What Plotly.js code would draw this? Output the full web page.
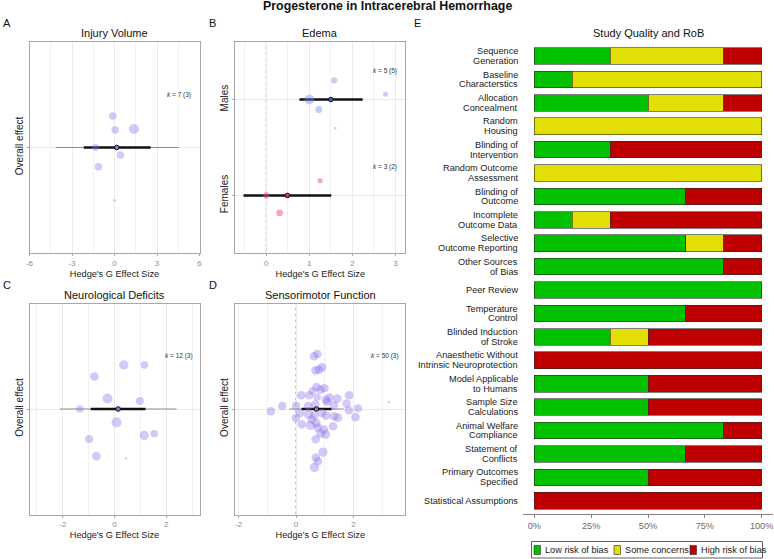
<!DOCTYPE html>
<html>
<head>
<meta charset="utf-8">
<script src="https://cdn.plot.ly/plotly-3.0.1.min.js"></script>
<style>
  html, body { margin: 0; padding: 0; background: #ffffff; }
  #chart { width: 774px; height: 559px; }
</style>
</head>
<body>
<div id="chart"></div>
<script>
// ---------------- Panel A: injury volume ----------------
const injuryG = [-0.12, 0.05, 1.37, -1.33, 0.42, -1.14, 0.0];
const injuryJitter = [0.179, 0.10, 0.105, 0.0, -0.043, -0.11, -0.30];
const injuryWeight = [9, 9, 16, 7.6, 9, 9, 1];
const injuryEstimate = 0.16;
const injuryCI = [-2.17, 2.55];
const injuryPI = [-4.15, 4.53];
const injuryCounts = [7, 3];          // effect sizes (studies)

// ---------------- Panel B: edema by sex ----------------
const sexGroups = ['Females', 'Males'];
const maleG = [1.58, 2.77, 1.0, 1.22, 1.6];
const maleJitter = [0.20, 0.055, 0.0, -0.105, -0.30];
const maleWeight = [6.25, 4, 16, 8.1, 1];
const maleEstimate = 1.5;
const maleCI = [0.77, 2.24];
const maleCounts = [5, 5];
const femaleG = [1.25, 0.0, 0.31];
const femaleJitter = [0.154, 0.0, -0.182];
const femaleWeight = [4, 6.25, 7];
const femaleEstimate = 0.49;
const femaleCI = [-0.53, 1.51];
const femaleCounts = [3, 2];

// ---------------- Panel C: neurological deficits ----------------
const neuroG = [0.36, 1.16, -0.78, -0.27, 0.98, -1.34, 0.08, 1.15, 1.54, -0.98, -0.7, 0.44];
const neuroJitter = [0.25, 0.25, 0.185, 0.06, 0.045, 0.0, -0.076, -0.15, -0.141, -0.171, -0.268, -0.281];
const neuroWeight = [14, 9, 12, 16, 10.5, 9, 16, 14, 9, 10.5, 12, 1];
const neuroEstimate = 0.14;
const neuroCI = [-0.92, 1.2];
const neuroPI = [-2.12, 2.4];
const neuroCounts = [12, 3];

// ---------------- Panel D: sensorimotor function ----------------
const sensoryG = [0.63, 0.74, 0.68, 0.80, 0.91, 0.71, 0.85, 0.99, 0.57, 0.18,
                  0.46, 1.04, 1.17, 1.44, 1.85, -0.48, 0.0, 0.42, 0.67, 1.08,
                  1.32, 1.76, 2.16, 1.84, -0.88, 0.14, -0.01, 0.43, 0.64, 0.90,
                  1.05, 1.33, 1.46, 2.07, 0.2, 0.5, 0.71, 0.76, 0.97, 1.29,
                  0.85, 1.04, 0.68, 0.94, 0.69, 0.76, 0.64, 3.24, 0.74, 0.55];
const sensoryJitter = [0.30, 0.313, 0.22, 0.224, 0.237, 0.125, 0.11, 0.118, 0.102, 0.078,
                       0.078, 0.053, 0.065, 0.059, 0.078, 0.017, 0.018, 0.017, 0.025, 0.04,
                       0.021, 0.031, 0.004, -0.007, -0.013, -0.023, -0.051, -0.03, -0.036, -0.023,
                       -0.038, -0.042, -0.049, -0.046, -0.087, -0.093, -0.08, -0.106, -0.117, -0.098,
                       -0.14, -0.144, -0.172, -0.245, -0.276, -0.297, -0.332, 0.04, 0.067, -0.06];
const sensoryWeight = [12, 12, 12, 12, 12, 12, 12, 12, 9, 12,
                       12, 12, 12, 12, 12, 12, 12, 12, 12, 12,
                       12, 12, 10, 12, 12, 12, 12, 14, 12, 12,
                       12, 12, 12, 12, 12, 14, 12, 12, 12, 12,
                       12, 12, 12, 14, 12, 12, 14, 1, 9, 12];
const sensoryEstimate = 0.71;
const sensoryCI = [0.19, 1.24];
const sensoryPI = [-0.24, 1.66];
const sensoryCounts = [50, 3];

// ---------------- Panel E: study quality and risk of bias ----------------
const domainLabels = [
  'Sequence<br>Generation', 'Baseline<br>Characterstics', 'Allocation<br>Concealment',
  'Random<br>Housing', 'Blinding of<br>Intervention', 'Random Outcome<br>Assessment',
  'Blinding of<br>Outcome', 'Incomplete<br>Outcome Data', 'Selective<br>Outcome Reporting',
  'Other Sources<br>of Bias', 'Peer Review', 'Temperature<br>Control',
  'Blinded Induction<br>of Stroke', 'Anaesthetic Without<br>Intrinsic Neuroprotection',
  'Model Applicable<br>to Humans', 'Sample Size<br>Calculations', 'Animal Welfare<br>Compliance',
  'Statement of<br>Conflicts', 'Primary Outcomes<br>Specified', 'Statistical Assumptions'
];
const nStudies = 6;
const lowRiskCounts  = [2, 1, 3, 0, 2, 0, 4, 1, 4, 5, 6, 4, 2, 0, 3, 3, 5, 4, 3, 0];
const someRiskCounts = [3, 5, 2, 6, 0, 6, 0, 1, 1, 0, 0, 0, 1, 0, 0, 0, 0, 0, 0, 0];
const highRiskCounts = [1, 0, 1, 0, 4, 0, 2, 4, 1, 1, 0, 2, 3, 6, 3, 3, 1, 2, 3, 6];
const riskLevels = ['Low risk of bias', 'Some concerns', 'High risk of bias'];
const riskColors = ['#02C100', '#E2DF07', '#BF0000'];

// ---------------- helpers ----------------
const W = 774, H = 559;
const fx = p => p / W;
const fy = p => 1 - p / H;
const FONT = 'Liberation Sans, Arial, Helvetica, sans-serif';

const lavender = 'rgba(146, 116, 232, 0.56)';
const maleBlue = 'rgba(112, 136, 240, 0.58)';
const femalePink = 'rgba(242, 72, 150, 0.72)';

function studyPoints(g, jitter, weight, base, xa, ya, color) {
  return {
    type: 'scatter', mode: 'markers', x: g, y: jitter.map(j => base + j),
    xaxis: xa, yaxis: ya, showlegend: false, hoverinfo: 'x',
    marker: { size: weight.map(w => 2.5 * Math.sqrt(w)), color: color, line: { width: 0 } }
  };
}

// interval lines for a pooled estimate (prediction interval optional)
function intervalTraces(ci, pi, base, xa, ya) {
  const out = [];
  if (pi) {
    out.push({ type: 'scatter', mode: 'lines', x: pi, y: [base, base], xaxis: xa, yaxis: ya,
      showlegend: false, hoverinfo: 'skip', line: { color: '#8c8c8c', width: 1.2 } });
  }
  out.push({ type: 'scatter', mode: 'lines', x: ci, y: [base, base], xaxis: xa, yaxis: ya,
    showlegend: false, hoverinfo: 'skip', line: { color: '#111111', width: 2.6 } });
  return out;
}

function estimateMarker(est, base, xa, ya, fill) {
  return { type: 'scatter', mode: 'markers', x: [est], y: [base], xaxis: xa, yaxis: ya,
    showlegend: false, hoverinfo: 'x',
    marker: { size: 4.6, color: fill, line: { color: '#111111', width: 1 } } };
}

function effectAxis(domain, range, ticks, minorStep, anchor) {
  return {
    domain: domain, range: range, anchor: anchor, fixedrange: true,
    tickmode: 'array', tickvals: ticks, ticktext: ticks.map(String),
    showgrid: true, gridcolor: '#ebebeb', gridwidth: 1,
    minor: { dtick: minorStep, tick0: 0, showgrid: true, gridcolor: '#f1f1f1', gridwidth: 1 },
    zeroline: false, showline: true, mirror: true, linecolor: '#a8a8a8', linewidth: 1,
    ticks: 'outside', ticklen: 2, tickcolor: '#a8a8a8',
    tickfont: { family: FONT, size: 8, color: '#8c8c8c' },
    title: { text: "Hedge's G Effect Size", font: { family: FONT, size: 9.2, color: '#222' }, standoff: 3 }
  };
}

function groupAxis(domain, range, vals, text, anchor) {
  return {
    domain: domain, range: range, anchor: anchor, fixedrange: true,
    tickmode: 'array', tickvals: vals, ticktext: text, tickangle: -90,
    showgrid: true, gridcolor: '#ebebeb', gridwidth: 1,
    zeroline: false, showline: true, mirror: true, linecolor: '#a8a8a8', linewidth: 1,
    ticks: 'outside', ticklen: 2, tickcolor: '#a8a8a8',
    tickfont: { family: FONT, size: 10, color: '#1a1a1a' }
  };
}

function kLabel(counts, xref, yref, y) {
  return {
    xref: xref + ' domain', yref: yref, x: 0.88, y: y, xanchor: 'center', yanchor: 'middle',
    text: '<i>k</i> = ' + counts[0] + ' (' + counts[1] + ')', showarrow: false,
    font: { family: FONT, size: 6.5, color: '#333' }
  };
}

function zeroLine(xref, yref) {
  return { type: 'line', xref: xref, yref: yref + ' domain', x0: 0, x1: 0, y0: 0, y1: 1,
    line: { color: '#7d7d7d', width: 1, dash: '3px,3px' }, layer: 'below' };
}

// ---------------- traces ----------------
// intervals sit underneath the translucent study points; pooled estimates go on top
const traces = [];
traces.push(...intervalTraces(injuryCI, injuryPI, 0, 'x', 'y'));
traces.push(studyPoints(injuryG, injuryJitter, injuryWeight, 0, 'x', 'y', lavender));
traces.push(estimateMarker(injuryEstimate, 0, 'x', 'y', '#8a74e0'));

traces.push(...intervalTraces(maleCI, null, 2, 'x2', 'y2'));
traces.push(...intervalTraces(femaleCI, null, 1, 'x2', 'y2'));
traces.push(studyPoints(maleG, maleJitter, maleWeight, 2, 'x2', 'y2', maleBlue));
traces.push(studyPoints(femaleG, femaleJitter, femaleWeight, 1, 'x2', 'y2', femalePink));
traces.push(estimateMarker(maleEstimate, 2, 'x2', 'y2', '#3f5fd0'));
traces.push(estimateMarker(femaleEstimate, 1, 'x2', 'y2', '#e0307c'));

traces.push(...intervalTraces(neuroCI, neuroPI, 0, 'x3', 'y3'));
traces.push(studyPoints(neuroG, neuroJitter, neuroWeight, 0, 'x3', 'y3', lavender));
traces.push(estimateMarker(neuroEstimate, 0, 'x3', 'y3', '#8a74e0'));

traces.push(...intervalTraces(sensoryCI, sensoryPI, 0, 'x4', 'y4'));
traces.push(studyPoints(sensoryG, sensoryJitter, sensoryWeight, 0, 'x4', 'y4', lavender));
traces.push(estimateMarker(sensoryEstimate, 0, 'x4', 'y4', '#8a74e0'));

// stacked risk-of-bias bars, expressed as the share of studies
[lowRiskCounts, someRiskCounts, highRiskCounts].forEach((counts, i) => {
  traces.push({
    type: 'bar', orientation: 'h', name: riskLevels[i],
    x: counts.map(c => (c > 0 ? c / nStudies : null)), y: domainLabels,
    xaxis: 'x5', yaxis: 'y5', width: 0.71, showlegend: false,
    marker: { color: riskColors[i], line: { color: '#2a2a2a', width: 0.6 } },
    hovertemplate: '%{y}: %{x:.0%}<extra>' + riskLevels[i] + '</extra>'
  });
});

// ---------------- layout ----------------
const topY = [fy(253), fy(42)];
const botY = [fy(514.5), fy(303.5)];
const leftX = [fx(29.5), fx(199.5)];
const midX = [fx(235.3), fx(405.3)];

function paperText(x, y, text, size, anchor) {
  return { xref: 'paper', yref: 'paper', x: fx(x), y: fy(y), text: text, showarrow: false,
    xanchor: anchor || 'center', yanchor: 'middle', font: { family: FONT, size: size, color: '#111' } };
}

const annotations = [
  paperText(387, 6, '<b>Progesterone in Intracerebral Hemorrhage</b>', 12.4),
  paperText(1, 23, 'A', 11, 'left'),
  paperText(206.5, 23, 'B', 11, 'left'),
  paperText(1, 285, 'C', 11, 'left'),
  paperText(206.5, 285, 'D', 11, 'left'),
  paperText(412.5, 23, 'E', 11, 'left'),
  paperText(114.5, 33, 'Injury Volume', 11),
  paperText(320.3, 33, 'Edema', 11),
  paperText(114.5, 295, 'Neurological Deficits', 11),
  paperText(320.3, 294.5, 'Sensorimotor Function', 11),
  paperText(648, 33, 'Study Quality and RoB', 11),
  kLabel(injuryCounts, 'x', 'y', 0.30),
  kLabel(maleCounts, 'x2', 'y2', 2.30),
  kLabel(femaleCounts, 'x2', 'y2', 1.30),
  kLabel(neuroCounts, 'x3', 'y3', 0.30),
  kLabel(sensoryCounts, 'x4', 'y4', 0.30)
];

// domain names beside the bars, right-aligned and with tight line spacing
const LINE_GAP = 9.8;
domainLabels.forEach((label, idx) => {
  const lines = label.split('<br>');
  lines.forEach((ln, j) => {
    annotations.push({
      xref: 'paper', yref: 'y5', x: fx(520), y: idx, text: ln, showarrow: false,
      xanchor: 'right', yanchor: 'middle',
      yshift: ((lines.length - 1) / 2 - j) * LINE_GAP,
      font: { family: FONT, size: 9.2, color: '#1a1a1a' }
    });
  });
});

const shapes = [zeroLine('x', 'y'), zeroLine('x2', 'y2'), zeroLine('x3', 'y3'), zeroLine('x4', 'y4')];

// risk-of-bias key below panel E
const keyLeft = [534, 614, 690];
shapes.push({ type: 'rect', xref: 'paper', yref: 'paper', x0: fx(531.5), x1: fx(762.5), y0: fy(558), y1: fy(541.5),
  line: { color: '#3a3a3a', width: 0.8 }, fillcolor: 'rgba(0,0,0,0)' });
riskLevels.forEach((lvl, i) => {
  shapes.push({ type: 'rect', xref: 'paper', yref: 'paper', x0: fx(keyLeft[i]), x1: fx(keyLeft[i] + 6.5),
    y0: fy(554.5), y1: fy(545.5), fillcolor: riskColors[i], line: { color: '#2a2a2a', width: 0.6 } });
  annotations.push({ xref: 'paper', yref: 'paper', x: fx(keyLeft[i] + 8.5), y: fy(550), text: lvl,
    showarrow: false, xanchor: 'left', yanchor: 'middle', font: { family: FONT, size: 9.2, color: '#1a1a1a' } });
});

const layout = {
  width: W, height: H, margin: { l: 0, r: 0, t: 0, b: 0, pad: 0 },
  paper_bgcolor: '#ffffff', plot_bgcolor: '#ffffff',
  font: { family: FONT, color: '#222' },
  showlegend: false, barmode: 'stack', hovermode: 'closest',
  xaxis: effectAxis(leftX, [-6, 6], [-6, -3, 0, 3, 6], 1.5, 'y'),
  yaxis: groupAxis(topY, [-0.6, 0.6], [0], ['Overall effect'], 'x'),
  xaxis2: effectAxis(midX, [-0.72, 3.23], [0, 1, 2, 3], 0.5, 'y2'),
  yaxis2: groupAxis(topY, [0.4, 2.6], [1, 2], sexGroups, 'x2'),
  xaxis3: effectAxis(leftX, [-3.29, 3.29], [-2, 0, 2], 1, 'y3'),
  yaxis3: groupAxis(botY, [-0.6, 0.6], [0], ['Overall effect'], 'x3'),
  xaxis4: effectAxis(midX, [-2.12, 3.81], [-2, 0, 2], 1, 'y4'),
  yaxis4: groupAxis(botY, [-0.6, 0.6], [0], ['Overall effect'], 'x4'),
  xaxis5: {
    domain: [fx(523), fx(773)], range: [-0.05, 1.05], anchor: 'y5', fixedrange: true,
    tickmode: 'array', tickvals: [0, 0.25, 0.5, 0.75, 1], tickformat: '.0%',
    showgrid: false, zeroline: false, showline: true, linecolor: '#7f7f7f', linewidth: 1,
    ticks: 'outside', ticklen: 3, tickcolor: '#7f7f7f',
    tickfont: { family: FONT, size: 9.2, color: '#6b6b6b' }
  },
  yaxis5: {
    domain: [fy(514.3), fy(42)], type: 'category', categoryorder: 'array', categoryarray: domainLabels,
    range: [domainLabels.length - 1 + 0.58, -0.6], anchor: 'x5', fixedrange: true,
    showgrid: false, zeroline: false, showline: false, ticks: '', showticklabels: false
  },
  annotations: annotations,
  shapes: shapes
};

Plotly.newPlot('chart', traces, layout, { displayModeBar: false, staticPlot: true });
</script>
</body>
</html>
